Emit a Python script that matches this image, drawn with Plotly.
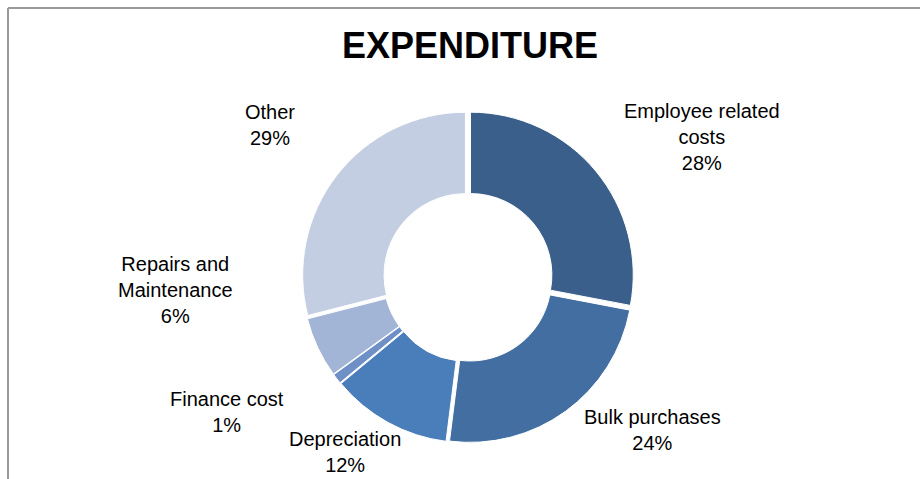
import plotly.graph_objects as go

categories = ["Employee related<br>costs", "Bulk purchases", "Depreciation",
              "Finance cost", "Repairs and<br>Maintenance", "Other"]
values = [28, 24, 12, 1, 6, 29]
pct_labels = ["28%", "24%", "12%", "1%", "6%", "29%"]

colors = ["#3A5F8B", "#426EA1", "#4A7EBB", "#6F90C6", "#A2B5D6", "#C3CEE3"]
# label centre positions in pixels (x, y from top)
label_pos = [(702, 137), (652, 430), (345, 452), (227, 412), (175, 290), (270, 125)]

W, H = 920, 479
cx, cy, R = 468, 277, 166

fig = go.Figure()
fig.add_trace(go.Pie(
    labels=categories, values=values, sort=False, direction="clockwise",
    rotation=0, hole=0.5, pull=0.02, textinfo="none", hoverinfo="skip",
    marker=dict(colors=colors, line=dict(color="white", width=1)),
    domain=dict(x=[(cx - R) / W, (cx + R) / W], y=[(H - cy - R) / H, (H - cy + R) / H]),
    showlegend=False,
))

for lab, pct, (x, y) in zip(categories, pct_labels, label_pos):
    fig.add_annotation(x=x / W, y=1 - y / H, xref="paper", yref="paper",
                       text=f"{lab}<br>{pct}", showarrow=False, align="center",
                       xanchor="center", yanchor="middle",
                       font=dict(family="Liberation Sans, Arial", size=20, color="#000000"))

fig.add_annotation(x=470 / W, y=1 - 45 / H, xref="paper", yref="paper",
                   text="<b>EXPENDITURE</b>", showarrow=False,
                   xanchor="center", yanchor="middle",
                   font=dict(family="Liberation Sans, Arial", size=36, color="#000000"))

# chart border (top and left)
fig.add_shape(type="line", xref="paper", yref="paper", x0=8 / W, x1=1, y0=1 - 8 / H, y1=1 - 8 / H,
              line=dict(color="#9a9a9a", width=2))
fig.add_shape(type="line", xref="paper", yref="paper", x0=8 / W, x1=8 / W, y0=0, y1=1 - 8 / H,
              line=dict(color="#9a9a9a", width=2))

fig.update_layout(width=W, height=H, margin=dict(l=0, r=0, t=0, b=0),
                  paper_bgcolor="white", plot_bgcolor="white")
fig.write_html("out.html")
